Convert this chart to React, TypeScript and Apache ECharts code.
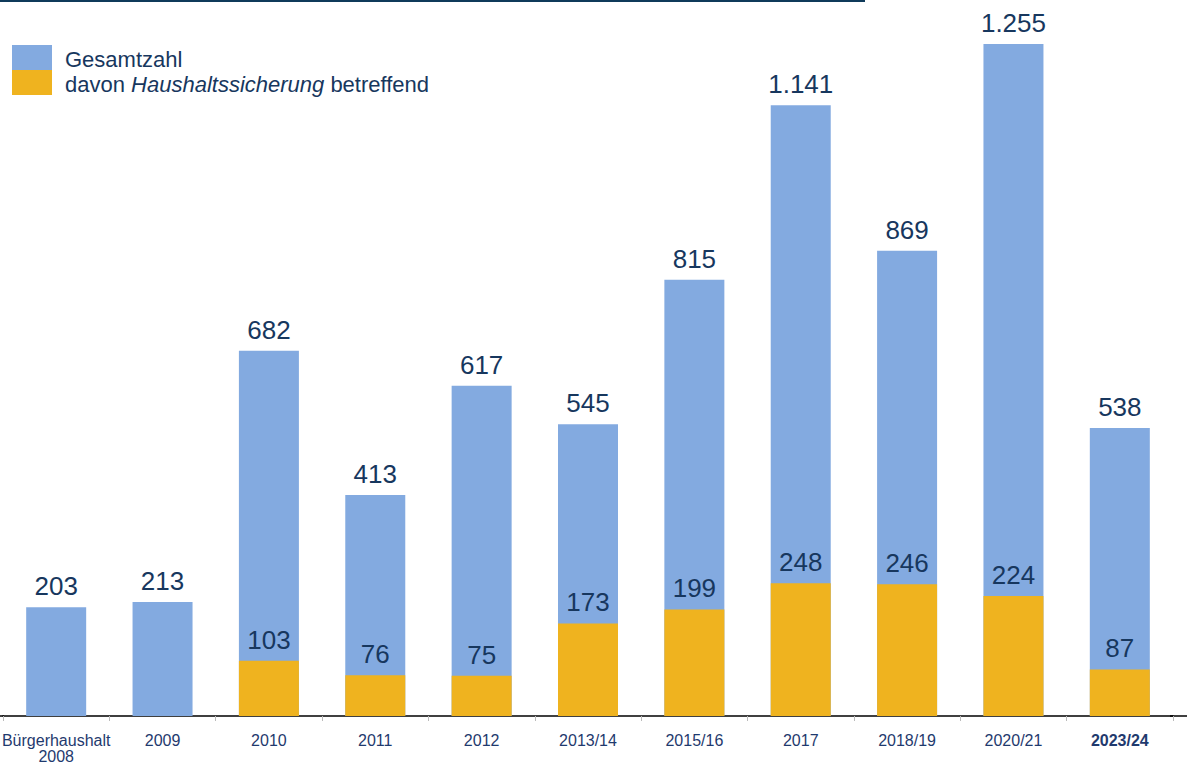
import React, { useEffect, useRef } from "react";
import * as echarts from "echarts";

const categories = ["Bürgerhaushalt\n2008", "2009", "2010", "2011", "2012", "2013/14", "2015/16", "2017", "2018/19", "2020/21", "2023/24"];
const totalValues = [203, 213, 682, 413, 617, 545, 815, 1141, 869, 1255, 538];
const securityValues: (number | null)[] = [null, null, 103, 76, 75, 173, 199, 248, 246, 224, 87];
const seriesNames = ["Gesamtzahl", "davon Haushaltssicherung betreffend"];

const FONT = "'Liberation Sans', Arial, Helvetica, sans-serif";
const VALUE_COLOR = "#17375e";
const AXIS_COLOR = "#1f3a6e";

const fmt = (v: number) => v.toLocaleString("de-DE");

export default function App() {
  const ref = useRef<HTMLDivElement>(null);
  useEffect(() => {
    if (!ref.current) return;
    const chart = echarts.init(ref.current, null, { renderer: "svg" });
    chart.setOption({
      animation: false,
      textStyle: { fontFamily: FONT },
      grid: { left: 3, right: 14, top: 20, bottom: 47, containLabel: false, outerBoundsMode: "none" },
      legend: {
        left: 12,
        top: 45,
        padding: 0,
        orient: "vertical",
        itemWidth: 40,
        itemHeight: 25,
        itemGap: 0,
        icon: "rect",
        selectedMode: false,
        textStyle: {
          fontFamily: FONT,
          fontSize: 22,
          color: VALUE_COLOR,
          padding: [3, 0, 0, 8],
          rich: {
            n: { fontFamily: FONT, fontSize: 22, color: VALUE_COLOR },
            i: { fontFamily: FONT, fontSize: 22, color: VALUE_COLOR, fontStyle: "italic" },
          },
        },
        formatter: (name: string) =>
          name === seriesNames[1] ? "{n|davon }{i|Haushaltssicherung}{n| betreffend}" : "{n|" + name + "}",
        data: seriesNames,
      },
      xAxis: {
        type: "category",
        data: categories,
        boundaryGap: true,
        axisLine: { lineStyle: { color: "#000", width: 1.5 } },
        axisTick: { show: true, length: 5, lineStyle: { color: "#bbbbbb" } },
        axisLabel: {
          interval: 0,
          color: AXIS_COLOR,
          fontSize: 16,
          lineHeight: 16,
          margin: 16,
          fontFamily: FONT,
          formatter: (v: string) => (v === "2023/24" ? "{b|" + v + "}" : v),
          rich: { b: { fontWeight: "bold", fontSize: 16, lineHeight: 16, color: AXIS_COLOR, fontFamily: FONT } },
        },
      },
      yAxis: {
        type: "value",
        min: 0,
        max: 1300,
        show: false,
        splitLine: { show: false },
      },
      series: [
        {
          name: seriesNames[0],
          type: "bar",
          data: totalValues,
          barWidth: 60,
          barGap: "-100%",
          itemStyle: { color: "#83aae0" },
          label: {
            show: true,
            position: "top",
            distance: 8,
            fontSize: 26,
            color: VALUE_COLOR,
            fontFamily: FONT,
            formatter: (p: any) => fmt(p.value),
          },
        },
        {
          name: seriesNames[1],
          type: "bar",
          data: securityValues,
          barWidth: 60,
          barGap: "-100%",
          itemStyle: { color: "#efb31f" },
          label: {
            show: true,
            position: "top",
            distance: 8,
            fontSize: 26,
            color: VALUE_COLOR,
            fontFamily: FONT,
            formatter: (p: any) => (p.value == null ? "" : fmt(p.value)),
          },
        },
      ],
    });
    const y0 = chart.convertToPixel({ yAxisIndex: 0 }, 0) as number;
    chart.setOption({
      graphic: [
        {
          type: "line",
          shape: { x1: 0, y1: 1, x2: 865, y2: 1 },
          style: { stroke: "#0f3a5a", lineWidth: 2 },
        },
        {
          type: "line",
          shape: { x1: 0, y1: y0, x2: 4, y2: y0 },
          style: { stroke: "#000", lineWidth: 1.5 },
        },
        {
          type: "line",
          shape: { x1: 1170, y1: y0, x2: 1187, y2: y0 },
          style: { stroke: "#000", lineWidth: 1.5 },
        },
      ],
    });
    return () => chart.dispose();
  }, []);
  return (
    <div
      ref={ref}
      style={{ position: "fixed", left: 0, top: 0, width: 1187, height: 763, background: "#fff" }}
    />
  );
}
